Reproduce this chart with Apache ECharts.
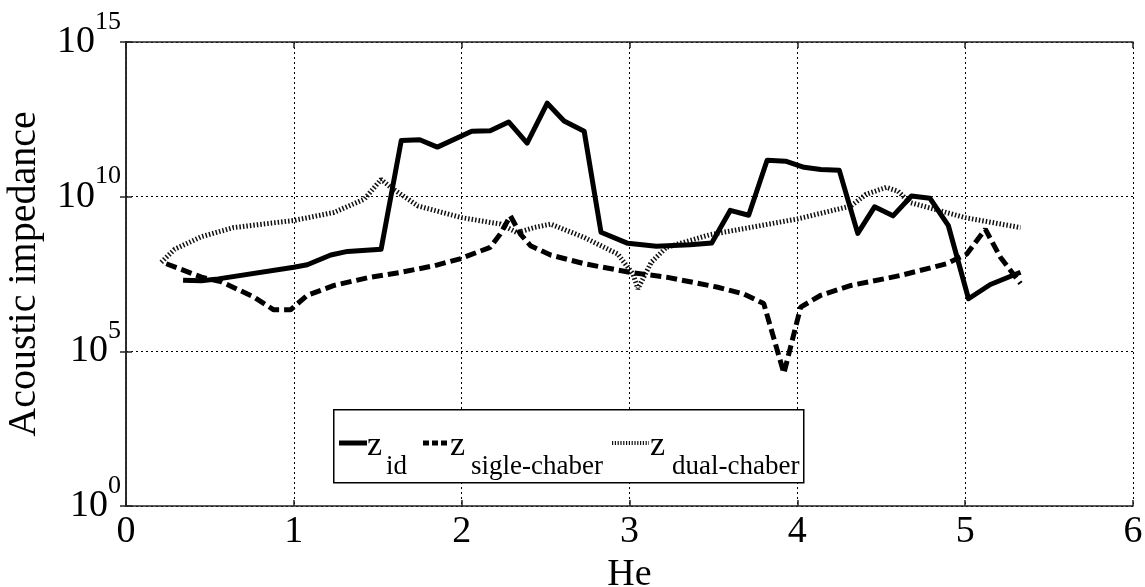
<!DOCTYPE html>
<html>
<head>
<meta charset="utf-8">
<script src="https://cdn.jsdelivr.net/npm/echarts@6/dist/echarts.min.js"></script>
<style>
  html, body { margin: 0; padding: 0; background: #fff; }
  #chart { width: 1145px; height: 587px; }
</style>
</head>
<body>
<div id="chart"></div>
<script>
// He values and acoustic impedance for each configuration
const idHe = [0.34, 0.45, 0.55, 1.0, 1.08, 1.22, 1.32, 1.52, 1.64, 1.75, 1.855, 2.06, 2.17, 2.28, 2.39, 2.51, 2.61, 2.73, 2.83, 2.99, 3.16, 3.36, 3.49, 3.60, 3.71, 3.82, 3.93, 4.04, 4.14, 4.25, 4.36, 4.46, 4.57, 4.68, 4.79, 4.90, 5.02, 5.15, 5.33];
const idZ = [2.0e7, 1.9e7, 2.2e7, 5.2e7, 6.3e7, 1.3e8, 1.7e8, 2.0e8, 6.5e11, 6.9e11, 4.0e11, 1.3e12, 1.35e12, 2.6e12, 5.4e11, 1.05e13, 2.8e12, 1.3e12, 7.1e8, 3.1e8, 2.5e8, 2.8e8, 3.2e8, 3.6e9, 2.5e9, 1.5e11, 1.4e11, 8.9e10, 7.6e10, 7.1e10, 6.5e8, 4.7e9, 2.4e9, 1.05e10, 8.9e9, 1.15e9, 5.0e6, 1.45e7, 3.6e7];

const singleHe = [0.24, 0.45, 0.565, 0.76, 0.88, 0.98, 1.08, 1.24, 1.44, 1.64, 1.84, 1.99, 2.17, 2.23, 2.29, 2.35, 2.41, 2.53, 2.73, 3.0, 3.22, 3.52, 3.68, 3.80, 3.92, 4.02, 4.14, 4.32, 4.61, 4.89, 5.01, 5.12, 5.21, 5.33];
const singleZ = [6.8e7, 2.5e7, 1.8e7, 5.8e6, 2.2e6, 2.2e6, 6.5e6, 1.35e7, 2.4e7, 3.6e7, 5.9e7, 9.8e7, 2.3e8, 6.2e8, 2.4e9, 6.2e8, 2.6e8, 1.3e8, 6.8e7, 3.6e7, 2.5e7, 1.2e7, 7.2e6, 3.5e6, 1.95e4, 2.7e6, 6.5e6, 1.35e7, 2.8e7, 6.8e7, 1.4e8, 8.9e8, 1.1e8, 1.55e7];

const dualHe = [0.21, 0.29, 0.45, 0.64, 1.0, 1.24, 1.42, 1.52, 1.58, 1.74, 2.0, 2.23, 2.33, 2.43, 2.53, 2.73, 2.93, 3.02, 3.05, 3.13, 3.22, 3.48, 4.0, 4.32, 4.41, 4.53, 4.60, 4.67, 5.0, 5.33];
const dualZ = [7.6e7, 2.0e8, 5.1e8, 1.0e9, 1.7e9, 3.1e9, 8.3e9, 3.6e10, 1.95e10, 5.0e9, 2.1e9, 1.3e9, 6.9e8, 1.0e9, 1.3e9, 4.8e8, 1.4e8, 3.2e7, 1.05e7, 7.6e7, 2.3e8, 5.9e8, 1.9e9, 5.0e9, 1.2e10, 2.0e10, 1.5e10, 6.5e9, 2.1e9, 1.0e9];

const xTicks = [0, 1, 2, 3, 4, 5, 6];
const yExponents = [0, 5, 10, 15];
const legendSubscripts = ['id', 'sigle-chaber', 'dual-chaber'];

const FONT = '"Liberation Serif", "Times New Roman", serif';

const SOLID = { color: '#000', width: 5, type: 'solid' };
const DASHED = { color: '#000', width: 5, type: [11, 5] };
const DOTTED = { color: '#111', width: 5, type: [1.5, 2] };

function pairs(xs, ys) {
  return xs.map((x, i) => [x, ys[i]]);
}

// Legend: a framed box with short line samples and z with a subscript
function legendGraphics() {
  const els = [{
    type: 'rect', left: 333, top: 409, z: 100,
    shape: { width: 470, height: 73 },
    style: { fill: '#fff', stroke: '#000', lineWidth: 1.5 }
  }];
  const items = [
    { x0: 339, x1: 367, zx: 367, sx: 386, color: '#000', width: 5, dash: null },
    { x0: 423, x1: 449, zx: 450, sx: 471, color: '#000', width: 5, dash: [6, 3] },
    { x0: 612, x1: 649, zx: 650, sx: 672, color: '#111', width: 4, dash: [1.2, 1.6] }
  ];
  items.forEach((it, i) => {
    els.push({
      type: 'line', z: 101,
      shape: { x1: it.x0, y1: 443, x2: it.x1, y2: 443 },
      style: { stroke: it.color, lineWidth: it.width, lineDash: it.dash }
    });
    els.push({
      type: 'text', z: 101, x: it.zx, y: 446,
      style: { text: 'z', font: '34px ' + FONT, fill: '#000', verticalAlign: 'middle', align: 'left' }
    });
    els.push({
      type: 'text', z: 101, x: it.sx, y: 467,
      style: { text: legendSubscripts[i], font: '27px ' + FONT, fill: '#000', verticalAlign: 'middle', align: 'left' }
    });
  });
  return els;
}

const chart = echarts.init(document.getElementById('chart'), null, { renderer: 'canvas' });

const gridLine = { show: true, lineStyle: { color: '#000', width: 1, type: [2, 3] } };
const frame = { show: true, lineStyle: { color: '#222', width: 1.5 } };
const ticks = { show: true, inside: true, length: 6, lineStyle: { color: '#222', width: 1.5 } };

chart.setOption({
  animation: false,
  backgroundColor: '#fff',
  grid: { left: 126, right: 12, top: 42, bottom: 81, outerBoundsMode: 'none', containLabel: false },
  xAxis: [{
    type: 'value', min: 0, max: 6, interval: 1,
    name: 'He', nameLocation: 'middle', nameGap: 45,
    nameTextStyle: { fontFamily: FONT, fontSize: 38, color: '#000' },
    axisLine: frame,
    axisTick: ticks,
    axisLabel: {
      fontFamily: FONT, fontSize: 38, color: '#000', margin: 7,
      formatter: v => xTicks.includes(v) ? String(v) : ''
    },
    splitLine: gridLine
  }, {
    type: 'value', min: 0, max: 6, interval: 1, position: 'top',
    axisLine: frame, axisTick: ticks,
    axisLabel: { show: false }, splitLine: { show: false }
  }],
  yAxis: [{
    type: 'log', logBase: 10, min: 1, max: 1e15, interval: 5,
    name: 'Acoustic impedance', nameLocation: 'middle', nameGap: 82,
    nameTextStyle: { fontFamily: FONT, fontSize: 40, color: '#000' },
    axisLine: frame,
    axisTick: ticks,
    axisLabel: {
      fontFamily: FONT, color: '#000', margin: 5,
      formatter: v => {
        const e = Math.round(Math.log10(v));
        return yExponents.includes(e) ? '{b|10}{s|' + e + '}' : '';
      },
      rich: {
        b: { fontFamily: FONT, fontSize: 38, lineHeight: 38, color: '#000', verticalAlign: 'middle' },
        s: { fontFamily: FONT, fontSize: 26, lineHeight: 26, color: '#000', verticalAlign: 'middle', padding: [0, 0, 40, 0] }
      }
    },
    splitLine: gridLine
  }, {
    type: 'log', logBase: 10, min: 1, max: 1e15, interval: 5, position: 'right',
    axisLine: frame, axisTick: ticks,
    axisLabel: { show: false }, splitLine: { show: false }
  }],
  graphic: legendGraphics(),
  series: [{
    name: 'id', type: 'line', symbol: 'none',
    data: pairs(idHe, idZ),
    lineStyle: Object.assign({ join: 'round' }, SOLID),
    z: 4
  }, {
    name: 'sigle-chaber', type: 'line', symbol: 'none',
    data: pairs(singleHe, singleZ),
    lineStyle: DASHED,
    z: 3
  }, {
    name: 'dual-chaber', type: 'line', symbol: 'none',
    data: pairs(dualHe, dualZ),
    lineStyle: DOTTED,
    z: 2
  }]
});
</script>
</body>
</html>
